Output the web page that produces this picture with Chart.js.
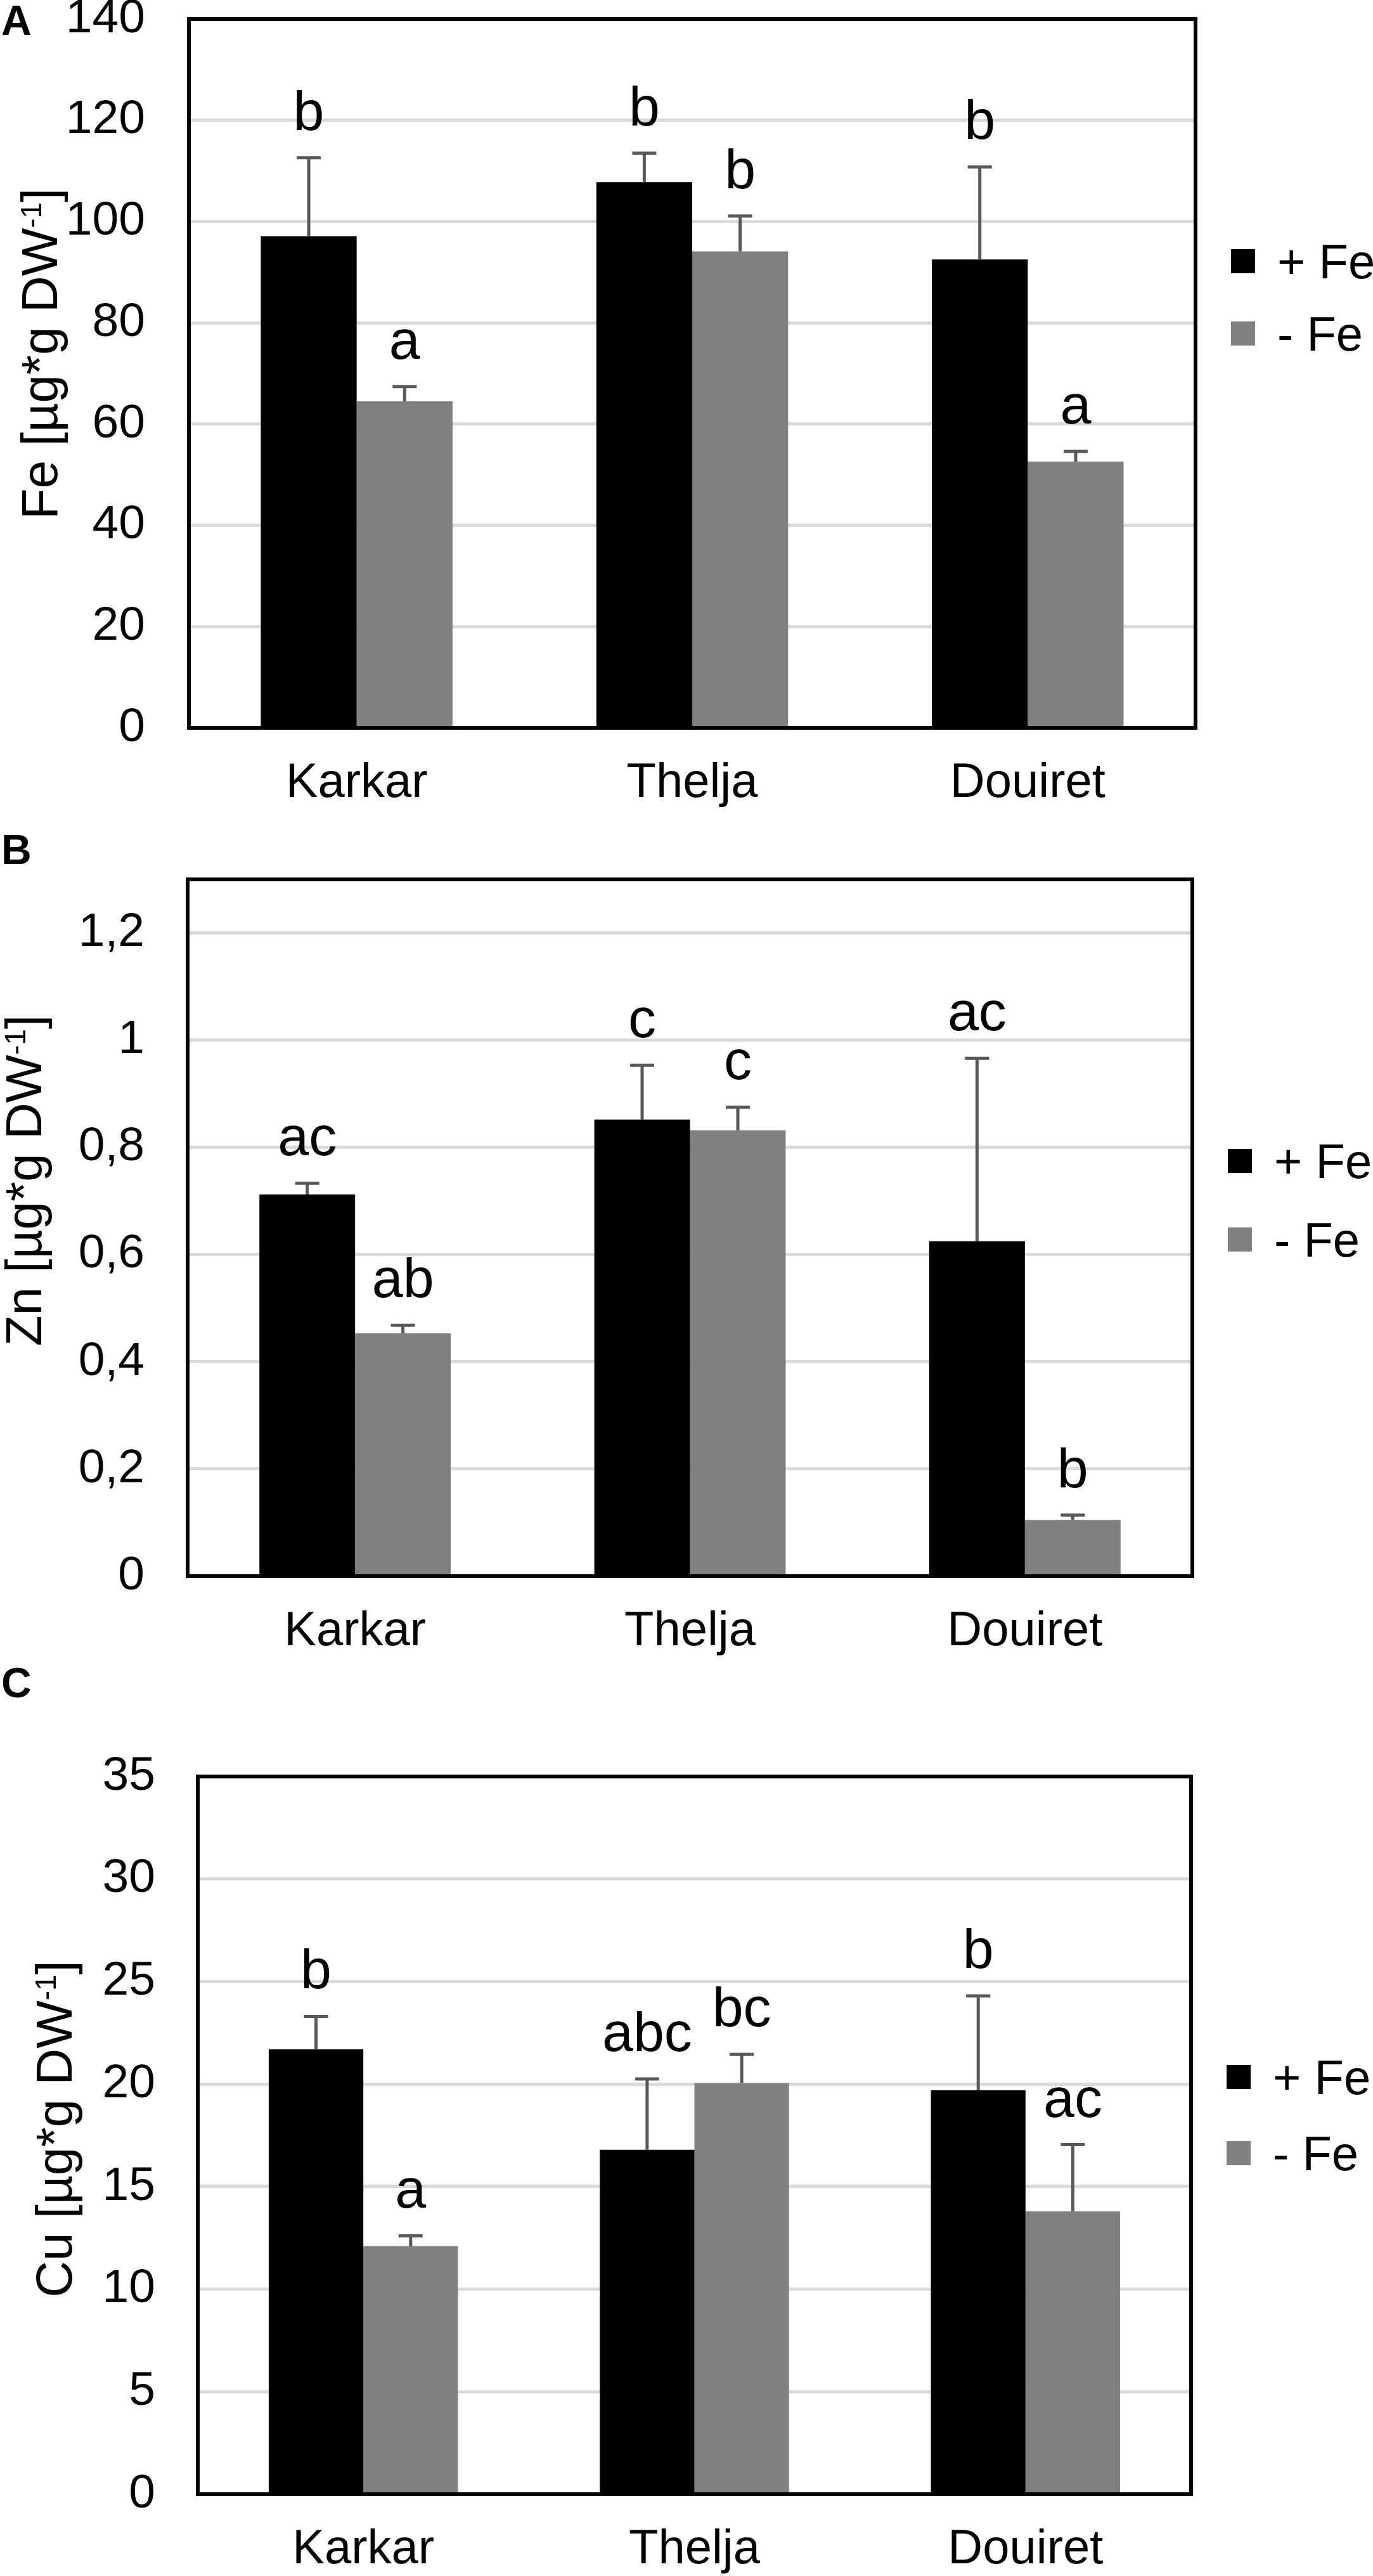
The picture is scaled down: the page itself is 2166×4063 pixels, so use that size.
<!DOCTYPE html>
<html>
<head>
<meta charset="utf-8">
<script src="https://cdn.jsdelivr.net/npm/chart.js@4.4.1/dist/chart.umd.min.js"></script>
<style>
  html, body { margin: 0; padding: 0; background: #ffffff; }
  #wrap { position: relative; width: 2166px; height: 4063px; overflow: hidden; background: #ffffff; }
  #wrap canvas { position: absolute; left: 0; top: 0; }
</style>
</head>
<body>
<div id="wrap">
  <canvas id="cA" width="2166" height="4063"></canvas>
  <canvas id="cB" width="2166" height="4063"></canvas>
  <canvas id="cC" width="2166" height="4063"></canvas>
</div>
<script>
// ---------------- DATA ----------------
const categories = ['Karkar', 'Thelja', 'Douiret'];
const seriesNames = ['+ Fe', '- Fe'];

// Panel A: Fe
const feTicks = [0, 20, 40, 60, 80, 100, 120, 140];
const feTickLabels = ['0', '20', '40', '60', '80', '100', '120', '140'];
const fePlus = [97.1, 107.8, 92.5];
const feMinus = [64.5, 94.1, 52.6];
const fePlusErr = [15.5, 5.7, 18.3];
const feMinusErr = [2.9, 7.0, 2.0];
const fePlusLetters = ['b', 'b', 'b'];
const feMinusLetters = ['a', 'b', 'a'];

// Panel B: Zn
const znTicks = [0, 0.2, 0.4, 0.6, 0.8, 1.0, 1.2];
const znTickLabels = ['0', '0,2', '0,4', '0,6', '0,8', '1', '1,2'];
const znPlus = [0.712, 0.852, 0.625];
const znMinus = [0.453, 0.832, 0.105];
const znPlusErr = [0.021, 0.101, 0.341];
const znMinusErr = [0.015, 0.043, 0.009];
const znPlusLetters = ['ac', 'c', 'ac'];
const znMinusLetters = ['ab', 'c', 'b'];

// Panel C: Cu
const cuTicks = [0, 5, 10, 15, 20, 25, 30, 35];
const cuTickLabels = ['0', '5', '10', '15', '20', '25', '30', '35'];
const cuPlus = [21.7, 16.8, 19.7];
const cuMinus = [12.1, 20.05, 13.8];
const cuPlusErr = [1.6, 3.45, 4.6];
const cuMinusErr = [0.5, 1.4, 3.25];
const cuPlusLetters = ['b', 'abc', 'b'];
const cuMinusLetters = ['a', 'bc', 'ac'];

// ---------------- STYLE / LAYOUT ----------------
const FONT = '"Liberation Sans", Arial, Helvetica, sans-serif';
const PAGE_W = 2166, PAGE_H = 4063;
const COLOR_PLUS = '#000000';
const COLOR_MINUS = '#808080';
const ERR_COLOR = '#595959';
const GRID_COLOR = '#d9d9d9';
const X_AXIS_H = 150;

const panels = [
  {
    canvas: 'cA', letter: 'A', letterBase: 55, element: 'Fe',
    area: { l: 298, r: 1886, t: 30, b: 1148 }, max: 140,
    ticks: feTicks, tickLabels: feTickLabels, tickPad: 69,
    titleBaseX: 90, titleCenterY: 558, legendY: [412, 526],
    plus: fePlus, minus: feMinus, plusErr: fePlusErr, minusErr: feMinusErr,
    plusLetters: fePlusLetters, minusLetters: feMinusLetters
  },
  {
    canvas: 'cB', letter: 'B', letterBase: 1363, element: 'Zn',
    area: { l: 296, r: 1881, t: 1387, b: 2486 }, max: 1.3,
    ticks: znTicks, tickLabels: znTickLabels, tickPad: 68,
    titleBaseX: 65, titleCenterY: 1862, legendY: [1831, 1955],
    plus: znPlus, minus: znMinus, plusErr: znPlusErr, minusErr: znMinusErr,
    plusLetters: znPlusLetters, minusLetters: znMinusLetters
  },
  {
    canvas: 'cC', letter: 'C', letterBase: 2677, element: 'Cu',
    area: { l: 312, r: 1879, t: 2802, b: 3934 }, max: 35,
    ticks: cuTicks, tickLabels: cuTickLabels, tickPad: 67,
    titleBaseX: 113, titleCenterY: 3358, legendY: [3276, 3396],
    plus: cuPlus, minus: cuMinus, plusErr: cuPlusErr, minusErr: cuMinusErr,
    plusLetters: cuPlusLetters, minusLetters: cuMinusLetters
  }
];

function makeDecor(p) {
  return {
    id: 'decor_' + p.letter,
    afterDatasetsDraw(chart) {
      const ctx = chart.ctx;
      const ys = chart.scales.y;
      const errs = [p.plusErr, p.minusErr];
      const lets = [p.plusLetters, p.minusLetters];
      chart.data.datasets.forEach((ds, di) => {
        const meta = chart.getDatasetMeta(di);
        meta.data.forEach((el, i) => {
          const topY = ys.getPixelForValue(ds.data[i] + errs[di][i]);
          ctx.save();
          ctx.strokeStyle = ERR_COLOR;
          ctx.lineWidth = 5;
          ctx.lineCap = 'butt';
          ctx.beginPath();
          ctx.moveTo(el.x, el.y);
          ctx.lineTo(el.x, topY);
          ctx.moveTo(el.x - 19, topY);
          ctx.lineTo(el.x + 19, topY);
          ctx.stroke();
          ctx.fillStyle = '#000';
          ctx.font = '88px ' + FONT;
          ctx.textAlign = 'center';
          ctx.textBaseline = 'alphabetic';
          ctx.fillText(lets[di][i], el.x, topY - 44);
          ctx.restore();
        });
      });
    },
    afterDraw(chart) {
      const ctx = chart.ctx;
      const a = chart.chartArea;
      ctx.save();
      // plot frame
      ctx.strokeStyle = '#000';
      ctx.lineWidth = 6;
      ctx.lineJoin = 'miter';
      ctx.strokeRect(a.left, a.top, a.right - a.left, a.bottom - a.top);

      // legend
      const colors = [COLOR_PLUS, COLOR_MINUS];
      chart.data.datasets.forEach((ds, di) => {
        const cy = p.legendY[di];
        const sx = a.right + 56;
        ctx.fillStyle = colors[di];
        ctx.fillRect(sx, cy - 19, 38, 38);
        ctx.fillStyle = '#000';
        ctx.font = '76px ' + FONT;
        ctx.textAlign = 'left';
        ctx.textBaseline = 'alphabetic';
        ctx.fillText(ds.label, sx + 73, cy + 27);
      });

      // panel letter
      ctx.fillStyle = '#000';
      ctx.font = 'bold 66px ' + FONT;
      ctx.textAlign = 'left';
      ctx.textBaseline = 'alphabetic';
      ctx.fillText(p.letter, 2, p.letterBase);

      // y-axis title with superscript
      const mainSize = 80, supSize = 46;
      const parts = [
        { t: p.element + ' [\u00b5g*g DW', s: mainSize, rise: 0 },
        { t: '-1', s: supSize, rise: 25 },
        { t: ']', s: mainSize, rise: 0 }
      ];
      let total = 0;
      parts.forEach(q => { ctx.font = q.s + 'px ' + FONT; q.w = ctx.measureText(q.t).width; total += q.w; });
      ctx.translate(p.titleBaseX, p.titleCenterY);
      ctx.rotate(-Math.PI / 2);
      let x = -total / 2;
      parts.forEach(q => {
        ctx.font = q.s + 'px ' + FONT;
        ctx.fillText(q.t, x, -q.rise);
        x += q.w;
      });
      ctx.restore();
    }
  };
}

panels.forEach(p => {
  const ctx = document.getElementById(p.canvas).getContext('2d');
  new Chart(ctx, {
    type: 'bar',
    data: {
      labels: categories,
      datasets: [
        { label: seriesNames[0], data: p.plus, backgroundColor: COLOR_PLUS, borderWidth: 0 },
        { label: seriesNames[1], data: p.minus, backgroundColor: COLOR_MINUS, borderWidth: 0 }
      ]
    },
    options: {
      responsive: false,
      animation: false,
      devicePixelRatio: 1,
      categoryPercentage: 0.5714,
      barPercentage: 1.0,
      layout: {
        padding: {
          top: p.area.t,
          left: 0,
          right: PAGE_W - p.area.r,
          bottom: PAGE_H - p.area.b - X_AXIS_H
        }
      },
      plugins: {
        legend: { display: false },
        tooltip: { enabled: false },
        title: { display: false }
      },
      scales: {
        x: {
          grid: { display: false, drawTicks: false },
          border: { display: false },
          ticks: { font: { family: FONT, size: 76 }, color: '#000', padding: 42, autoSkip: false, maxRotation: 0, minRotation: 0 },
          afterFit: s => { s.height = X_AXIS_H; s.paddingLeft = 0; s.paddingRight = 0; }
        },
        y: {
          min: 0,
          max: p.max,
          grid: { color: GRID_COLOR, lineWidth: 5, drawTicks: false },
          border: { display: false },
          ticks: {
            font: { family: FONT, size: 75 }, color: '#000', padding: p.tickPad,
            callback: (v, i) => p.tickLabels[i]
          },
          afterBuildTicks: s => { s.ticks = p.ticks.map(v => ({ value: v })); },
          afterFit: s => { s.width = p.area.l; s.paddingTop = 0; s.paddingBottom = 0; }
        }
      }
    },
    plugins: [makeDecor(p)]
  });
});
</script>
</body>
</html>
